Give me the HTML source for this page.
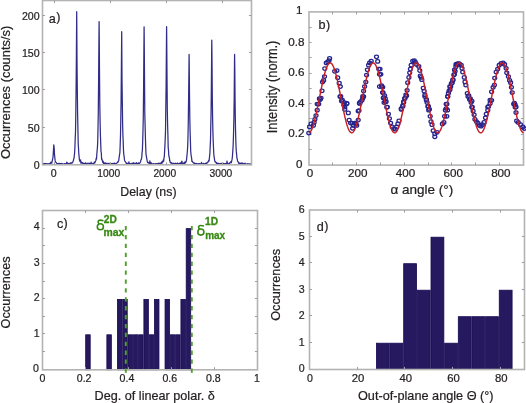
<!DOCTYPE html>
<html><head><meta charset="utf-8"><style>
html,body{margin:0;padding:0;background:#fff;overflow:hidden;}
svg{display:block;will-change:transform;}
text{font-family:"Liberation Sans", sans-serif;}
</style></head><body>
<svg width="526" height="403" viewBox="0 0 526 403">
<rect width="526" height="403" fill="#fff"/>
<path d="M43.1 164.07 L43.4 163.82 L43.7 163.63 L44 163.8 L44.3 164.38 L44.6 163.49 L44.9 163.89 L45.2 164.24 L45.5 164.09 L45.8 163.44 L46.1 164.28 L46.4 164.25 L46.7 163.97 L47 163.67 L47.3 163.63 L47.6 164.37 L47.9 164.18 L48.2 164.01 L48.5 164.38 L48.8 163.56 L49.1 163.8 L49.4 163.88 L49.7 163.3 L50 164.03 L50.3 164.06 L50.6 163.19 L50.9 162.13 L51.2 163.23 L51.5 162.87 L51.8 163.14 L52.1 161.69 L52.4 160.16 L52.7 158.58 L53 157.13 L53.3 153.15 L53.6 147.34 L53.8 144.84 L53.9 145.91 L54.2 148.4 L54.5 154.52 L54.8 157.25 L55.1 160.4 L55.4 161.64 L55.7 161.99 L56 162.56 L56.3 162.71 L56.6 163.15 L56.9 163.65 L57.2 163.77 L57.5 163.7 L57.8 164.09 L58.1 163.81 L58.4 164.19 L58.7 163.3 L59 163.36 L59.3 163.84 L59.6 163.58 L59.9 163.57 L60.2 164.36 L60.5 163.61 L60.8 164.03 L61.1 163.65 L61.4 164.38 L61.7 163.63 L62 163.46 L62.3 163.93 L62.6 164.38 L62.9 164.19 L63.2 164.19 L63.5 164.14 L63.8 164.38 L64.1 163.88 L64.4 163.58 L64.7 164.2 L65 163.92 L65.3 163.74 L65.6 163.82 L65.9 164.38 L66.2 164.38 L66.5 163.51 L66.8 162.15 L67.1 163.94 L67.4 162.86 L67.7 163.76 L68 163.56 L68.3 163.78 L68.6 163.96 L68.9 163.3 L69.2 164.03 L69.5 163.67 L69.8 164.13 L70.1 163.12 L70.4 163.37 L70.7 162.86 L71 162.9 L71.3 162.83 L71.6 163.24 L71.9 162.53 L72.2 162.9 L72.5 162.72 L72.8 161.9 L73.1 161.22 L73.4 160.57 L73.7 158.88 L74 158.45 L74.3 155.51 L74.6 153.19 L74.9 147.59 L75.2 138.85 L75.5 132.03 L75.8 114.21 L76.1 88.1 L76.4 53.91 L76.7 12.21 L76.7 11.66 L77 59.66 L77.3 89.65 L77.6 113.27 L77.9 127.78 L78.2 143.43 L78.5 148.03 L78.8 153.62 L79.1 156.43 L79.4 159.76 L79.7 160.55 L80 161.54 L80.3 161.55 L80.6 159.81 L80.9 163.09 L81.2 162.16 L81.5 162.16 L81.8 163.04 L82.1 163.1 L82.4 163 L82.7 162.62 L83 163.92 L83.3 163.65 L83.6 163.31 L83.9 163.53 L84.2 164.19 L84.5 163.49 L84.8 163.64 L85.1 163.66 L85.4 162.78 L85.7 163.42 L86 164.36 L86.3 164.33 L86.6 164.27 L86.9 163.21 L87.2 164.15 L87.5 163.98 L87.8 163.86 L88.1 163.12 L88.4 164.38 L88.7 163.55 L89 163.7 L89.3 164.2 L89.6 163.2 L89.9 163.43 L90.2 163.79 L90.5 164.38 L90.8 164.13 L91.1 162.14 L91.4 163.97 L91.7 163.67 L92 164.38 L92.3 163.94 L92.6 163.91 L92.9 163.3 L93.2 163.61 L93.5 163.25 L93.8 163.25 L94.1 162.8 L94.4 162 L94.7 163.23 L95 161.82 L95.3 161.93 L95.6 161.01 L95.9 160.44 L96.2 158.03 L96.5 159.25 L96.8 154.66 L97.1 150.81 L97.4 147.79 L97.7 142.54 L98 128.08 L98.3 112.55 L98.6 80.64 L98.9 42.65 L99.1 21.51 L99.2 31.13 L99.5 72.24 L99.8 103.98 L100.1 121.98 L100.4 134.68 L100.7 142.52 L101 151.56 L101.3 152.57 L101.6 159.28 L101.9 158.83 L102.2 160.32 L102.5 161.45 L102.8 162.66 L103.1 161.21 L103.4 162.91 L103.7 163.52 L104 163.51 L104.3 162.86 L104.6 163.44 L104.9 163.93 L105.2 163.68 L105.5 162.85 L105.8 163.57 L106.1 163.88 L106.4 163.32 L106.7 164.21 L107 163.89 L107.3 164.25 L107.6 163.6 L107.9 163.34 L108.2 163.82 L108.5 164.07 L108.8 163.84 L109.1 163.23 L109.4 164.1 L109.7 163.68 L110 164.24 L110.3 164.3 L110.6 163.99 L110.9 163.71 L111.2 164.38 L111.5 164.03 L111.8 163.51 L112.1 163.88 L112.4 163.41 L112.7 163.97 L113 164.14 L113.3 163.37 L113.6 163.51 L113.9 164.06 L114.2 164.01 L114.5 163.03 L114.8 163.41 L115.1 163.39 L115.4 164.02 L115.7 163.69 L116 163.57 L116.3 163.65 L116.6 163.23 L116.9 163 L117.2 162.62 L117.5 162.53 L117.8 161.64 L118.1 162.18 L118.4 160.93 L118.7 160.74 L119 158.41 L119.3 156.19 L119.6 154.39 L119.9 152.48 L120.2 144.5 L120.5 135.18 L120.8 119.3 L121.1 100.3 L121.4 66.73 L121.7 32.06 L121.7 31.7 L122 79.27 L122.3 100.16 L122.6 122.66 L122.9 134.9 L123.2 141.87 L123.5 150.67 L123.8 154.51 L124.1 156.04 L124.4 159.42 L124.7 160.84 L125 161.14 L125.3 161.42 L125.6 162.06 L125.9 162.44 L126.2 163.21 L126.5 163.57 L126.8 163.2 L127.1 163.31 L127.4 163.72 L127.7 163.45 L128 163.3 L128.3 163.53 L128.6 164.38 L128.9 161.94 L129.2 163.29 L129.5 163.29 L129.8 164.38 L130.1 164.28 L130.4 164.12 L130.7 163.6 L131 163.69 L131.3 163.71 L131.6 163.91 L131.9 163.32 L132.2 164.29 L132.5 163.14 L132.8 163.88 L133.1 164.29 L133.4 163.78 L133.7 162.52 L134 162.99 L134.3 164.34 L134.6 163.88 L134.9 163.88 L135.2 163.89 L135.5 163.4 L135.8 163.83 L136.1 164.06 L136.4 162.61 L136.7 163.53 L137 163.6 L137.3 163.71 L137.6 163.59 L137.9 163.84 L138.2 162.88 L138.5 163.48 L138.8 163.3 L139.1 163.08 L139.4 163.3 L139.7 162.9 L140 162.84 L140.3 162.36 L140.6 161.63 L140.9 159.77 L141.2 159.79 L141.5 158.59 L141.8 157.15 L142.1 152.28 L142.4 150.05 L142.7 141.14 L143 129.65 L143.3 116.72 L143.6 88.69 L143.9 49.02 L144.1 26.78 L144.2 35.79 L144.5 75 L144.8 113.95 L145.1 125.03 L145.4 137.03 L145.7 146.92 L146 154.41 L146.3 155.55 L146.6 157.87 L146.9 159.23 L147.2 161.08 L147.5 162.35 L147.8 162.43 L148.1 162.91 L148.4 162.82 L148.7 162.53 L149 163.08 L149.3 162.84 L149.6 163.46 L149.9 160.9 L150.2 163.78 L150.5 164.04 L150.8 162.94 L151.1 163.81 L151.4 162.82 L151.7 163.21 L152 163.79 L152.3 164.13 L152.6 164.07 L152.9 164.03 L153.2 164.38 L153.5 163.56 L153.8 164.18 L154.1 163.8 L154.4 164.19 L154.7 164.13 L155 164.32 L155.3 163.85 L155.6 164.02 L155.9 163.51 L156.2 164.07 L156.5 163.99 L156.8 163.83 L157.1 163.62 L157.4 164.2 L157.7 163.73 L158 163.29 L158.3 163.76 L158.6 163.23 L158.9 164.38 L159.2 163.76 L159.5 163.23 L159.8 163.28 L160.1 164.11 L160.4 163.89 L160.7 163.73 L161 162.56 L161.3 162.93 L161.6 162.01 L161.9 163.25 L162.2 162.88 L162.5 161.71 L162.8 160.8 L163.1 161.84 L163.4 159.73 L163.7 161.09 L164 157.81 L164.3 156.54 L164.6 151.26 L164.9 146.24 L165.2 139.25 L165.5 131.41 L165.8 108.04 L166.1 86.31 L166.4 49.2 L166.6 26.68 L166.7 36.07 L167 74.66 L167.3 109.62 L167.6 124.43 L167.9 134.81 L168.2 147.71 L168.5 150.14 L168.8 155.76 L169.1 156.74 L169.4 157.93 L169.7 160.86 L170 160.8 L170.3 162.67 L170.6 162.83 L170.9 162.63 L171.2 162.58 L171.5 162.96 L171.8 163.59 L172.1 163.07 L172.4 163.38 L172.7 163.84 L173 164.26 L173.3 163.28 L173.6 163.31 L173.9 163.35 L174.2 163.7 L174.5 163.74 L174.8 164.29 L175.1 163.27 L175.4 163.44 L175.7 163.23 L176 164.33 L176.3 163.53 L176.6 164.16 L176.9 164.04 L177.2 163.67 L177.5 163.04 L177.8 163.78 L178.1 163.49 L178.4 163.53 L178.7 164.24 L179 163.92 L179.3 164.05 L179.6 163.25 L179.9 164.06 L180.2 163.17 L180.5 163.54 L180.8 163.62 L181.1 162.48 L181.4 163.49 L181.7 161.68 L182 161.2 L182.3 164.38 L182.6 164.01 L182.9 163.72 L183.2 163.49 L183.5 163.63 L183.8 163.08 L184.1 162.41 L184.4 163.61 L184.7 163.44 L185 161.91 L185.3 162.95 L185.6 162.73 L185.9 161.95 L186.2 161.1 L186.5 159.97 L186.8 157.15 L187.1 154.23 L187.4 150.73 L187.7 145.98 L188 136.72 L188.3 121.46 L188.6 98.17 L188.9 72.64 L189.1 54.44 L189.2 60.95 L189.5 94.33 L189.8 116.96 L190.1 131.4 L190.4 140.86 L190.7 151.28 L191 154.29 L191.3 156.53 L191.6 157.82 L191.9 161.34 L192.2 161.1 L192.5 161.59 L192.8 162.4 L193.1 162.47 L193.4 162.69 L193.7 163.19 L194 163.22 L194.3 162.92 L194.6 164.38 L194.9 163.96 L195.2 164.07 L195.5 163.41 L195.8 163.61 L196.1 163.88 L196.4 163.41 L196.7 163.63 L197 163.96 L197.3 163.73 L197.6 164.18 L197.9 164.3 L198.2 163.83 L198.5 164.17 L198.8 163.62 L199.1 163.76 L199.4 163.69 L199.7 163.65 L200 164.14 L200.3 164.38 L200.6 163.98 L200.9 163.74 L201.2 163.68 L201.5 162.41 L201.8 163.2 L202.1 163.98 L202.4 163.92 L202.7 163.9 L203 163.88 L203.3 164.32 L203.6 163.42 L203.9 163.96 L204.2 164 L204.5 164.38 L204.8 163.61 L205.1 163.83 L205.4 163.97 L205.7 163.11 L206 163.46 L206.3 163.65 L206.6 162.94 L206.9 163.04 L207.2 162.83 L207.5 162.89 L207.8 162.74 L208.1 161.38 L208.4 161.26 L208.7 160.03 L209 161.06 L209.3 158.72 L209.6 156.12 L209.9 152.82 L210.2 146.62 L210.5 140.35 L210.8 125.43 L211.1 110.87 L211.4 84.03 L211.7 47.82 L211.8 40.15 L212 59.78 L212.3 96.44 L212.6 117.87 L212.9 131.51 L213.2 140.95 L213.5 147.83 L213.8 154.21 L214.1 156.59 L214.4 158.58 L214.7 160.58 L215 161.75 L215.3 161.69 L215.6 162.16 L215.9 162.57 L216.2 162.35 L216.5 163 L216.8 163.71 L217.1 162.96 L217.4 163.3 L217.7 163.26 L218 163.72 L218.3 163.43 L218.6 163.3 L218.9 164.07 L219.2 163.84 L219.5 163.71 L219.8 164.2 L220.1 163.51 L220.4 164.08 L220.7 163.88 L221 164.11 L221.3 163.29 L221.6 164.19 L221.9 164.07 L222.2 163.68 L222.5 164 L222.8 164.15 L223.1 163.95 L223.4 163.39 L223.7 164.31 L224 163.53 L224.3 164.17 L224.6 164.16 L224.9 163.84 L225.2 163.5 L225.5 163.57 L225.8 163.57 L226.1 163.77 L226.4 163.95 L226.7 163.4 L227 161.05 L227.3 163.28 L227.6 163.84 L227.9 163.47 L228.2 164.38 L228.5 163.51 L228.8 163.86 L229.1 163.63 L229.4 164.09 L229.7 162.77 L230 162.63 L230.3 162.65 L230.6 162.11 L230.9 161.64 L231.2 162.75 L231.5 161.97 L231.8 160.38 L232.1 159.16 L232.4 156.75 L232.7 152.27 L233 148.1 L233.3 141.44 L233.6 131.03 L233.9 117.86 L234.2 97.14 L234.5 61.58 L234.6 54.47 L234.8 69.27 L235.1 103.11 L235.4 123.84 L235.7 136.73 L236 145.95 L236.3 151.63 L236.6 154.08 L236.9 158.25 L237.2 158.68 L237.5 160.64 L237.8 161.45 L238.1 161.53 L238.4 162.4 L238.7 163.45 L239 162.81 L239.3 163.06 L239.6 163.3 L239.9 163.72 L240.2 163.32 L240.5 163.9 L240.8 163.62 L241.1 162.83 L241.4 164.16 L241.7 163.57 L242 163.22 L242.3 163.12 L242.6 163.3 L242.9 164.08 L243.2 163.44 L243.5 163.65 L243.8 163.92 L244.1 163.84 L244.4 163.62 L244.7 163.59 L245 163.08 L245.3 164.29 L245.6 164.12 L245.9 164.38 L246.2 163.98 L246.5 164.2 L246.8 164.2 L247.1 163.89 L247.4 164.03 L247.7 163.86 L248 163.75 L248.3 164.32 L248.6 164.27 L248.9 164.38 L249.2 163.9 L249.5 164.17 L249.8 164.1 L250.1 163.93 L250.4 163.85 L250.7 164.13" fill="none" stroke="#302c88" stroke-width="1.25" stroke-linejoin="round"/>
<rect x="42.5" y="0.5" width="209" height="164.3" fill="none" stroke="#b3b3b3" stroke-width="1.6"/>
<path d="M54.5 164.8v-2.6M54.5 0.5v2.6M110.5 164.8v-2.6M110.5 0.5v2.6M166.5 164.8v-2.6M166.5 0.5v2.6M222.5 164.8v-2.6M222.5 0.5v2.6" stroke="#a0a0a0" stroke-width="1" fill="none"/>
<path d="M42.5 164.5h2.6M251.5 164.5h-2.6M42.5 127.5h2.6M251.5 127.5h-2.6M42.5 89.5h2.6M251.5 89.5h-2.6M42.5 52.5h2.6M251.5 52.5h-2.6M42.5 15.5h2.6M251.5 15.5h-2.6" stroke="#a0a0a0" stroke-width="1" fill="none"/>
<text x="53.75" y="177" font-size="10.6" text-anchor="middle" fill="#231f20" stroke="#231f20" stroke-width="0.22" font-weight="normal">0</text>
<text x="108.7" y="177.2" font-size="10.6" text-anchor="middle" fill="#231f20" stroke="#231f20" stroke-width="0.22" font-weight="normal" textLength="22.8" lengthAdjust="spacingAndGlyphs">1000</text>
<text x="164.8" y="177.2" font-size="10.6" text-anchor="middle" fill="#231f20" stroke="#231f20" stroke-width="0.22" font-weight="normal" textLength="22.8" lengthAdjust="spacingAndGlyphs">2000</text>
<text x="220.9" y="177.2" font-size="10.6" text-anchor="middle" fill="#231f20" stroke="#231f20" stroke-width="0.22" font-weight="normal" textLength="22.8" lengthAdjust="spacingAndGlyphs">3000</text>
<text x="39.6" y="169.1" font-size="10.6" text-anchor="end" fill="#231f20" stroke="#231f20" stroke-width="0.22" font-weight="normal">0</text>
<text x="39.6" y="131.72" font-size="10.6" text-anchor="end" fill="#231f20" stroke="#231f20" stroke-width="0.22" font-weight="normal">50</text>
<text x="39.6" y="94.35" font-size="10.6" text-anchor="end" fill="#231f20" stroke="#231f20" stroke-width="0.22" font-weight="normal">100</text>
<text x="39.6" y="56.97" font-size="10.6" text-anchor="end" fill="#231f20" stroke="#231f20" stroke-width="0.22" font-weight="normal">150</text>
<text x="39.6" y="19.6" font-size="10.6" text-anchor="end" fill="#231f20" stroke="#231f20" stroke-width="0.22" font-weight="normal">200</text>
<text x="48.7" y="22.7" font-size="12.6" fill="#231f20" stroke="#231f20" stroke-width="0.22">a<tspan dx="0.5" dy="-1.3">)</tspan></text>
<text x="120.3" y="195.7" font-size="12.6" text-anchor="start" fill="#231f20" stroke="#231f20" stroke-width="0.22" font-weight="normal" textLength="56.2" lengthAdjust="spacingAndGlyphs">Delay (ns)</text>
<text transform="translate(10.4 159.1) rotate(-90)" font-size="12.6" fill="#231f20" stroke="#231f20" stroke-width="0.22" textLength="133.4" lengthAdjust="spacingAndGlyphs">Occurrences (counts/s)</text>
<rect x="309" y="11.9" width="214.5" height="153.2" fill="none" stroke="#b3b3b3" stroke-width="1.6"/>
<path d="M332.5 165.1v-2.6M332.5 11.9v2.6M356.5 165.1v-2.6M356.5 11.9v2.6M380.5 165.1v-2.6M380.5 11.9v2.6M404.5 165.1v-2.6M404.5 11.9v2.6M428.5 165.1v-2.6M428.5 11.9v2.6M451.5 165.1v-2.6M451.5 11.9v2.6M475.5 165.1v-2.6M475.5 11.9v2.6M499.5 165.1v-2.6M499.5 11.9v2.6" stroke="#a0a0a0" stroke-width="1" fill="none"/>
<path d="M309 149.5h2.6M523.5 149.5h-2.6M309 134.5h2.6M523.5 134.5h-2.6M309 118.5h2.6M523.5 118.5h-2.6M309 103.5h2.6M523.5 103.5h-2.6M309 88.5h2.6M523.5 88.5h-2.6M309 73.5h2.6M523.5 73.5h-2.6M309 57.5h2.6M523.5 57.5h-2.6M309 42.5h2.6M523.5 42.5h-2.6M309 27.5h2.6M523.5 27.5h-2.6" stroke="#a0a0a0" stroke-width="1" fill="none"/>
<g fill="none" stroke="#24248e" stroke-width="1.25"><ellipse cx="317.2" cy="104" rx="2.0" ry="1.75"/><ellipse cx="319.4" cy="98.7" rx="2.0" ry="1.75"/><ellipse cx="322" cy="90.8" rx="2.0" ry="1.75"/><ellipse cx="322.5" cy="82" rx="2.0" ry="1.75"/><ellipse cx="323.6" cy="80.4" rx="2.0" ry="1.75"/><ellipse cx="324.5" cy="76.6" rx="2.0" ry="1.75"/><ellipse cx="324.8" cy="68.6" rx="2.0" ry="1.75"/><ellipse cx="326.3" cy="62.9" rx="2.0" ry="1.75"/><ellipse cx="327.8" cy="61.9" rx="2.0" ry="1.75"/><ellipse cx="329.6" cy="58.4" rx="2.0" ry="1.75"/><ellipse cx="329" cy="60.6" rx="2.0" ry="1.75"/><ellipse cx="334.7" cy="71.3" rx="2.0" ry="1.75"/><ellipse cx="336.9" cy="70.5" rx="2.0" ry="1.75"/><ellipse cx="337.7" cy="77.7" rx="2.0" ry="1.75"/><ellipse cx="339.2" cy="83.2" rx="2.0" ry="1.75"/><ellipse cx="340.3" cy="86.5" rx="2.0" ry="1.75"/><ellipse cx="340.7" cy="96.4" rx="2.0" ry="1.75"/><ellipse cx="342.3" cy="100.2" rx="2.0" ry="1.75"/><ellipse cx="344.5" cy="102.5" rx="2.0" ry="1.75"/><ellipse cx="346.8" cy="103.5" rx="2.0" ry="1.75"/><ellipse cx="344.8" cy="107" rx="2.0" ry="1.75"/><ellipse cx="359" cy="110.5" rx="2.0" ry="1.75"/><ellipse cx="359.4" cy="103.2" rx="2.0" ry="1.75"/><ellipse cx="362" cy="100.2" rx="2.0" ry="1.75"/><ellipse cx="362.8" cy="96.4" rx="2.0" ry="1.75"/><ellipse cx="363.6" cy="91" rx="2.0" ry="1.75"/><ellipse cx="364.6" cy="86.5" rx="2.0" ry="1.75"/><ellipse cx="365.8" cy="82" rx="2.0" ry="1.75"/><ellipse cx="366.6" cy="75.1" rx="2.0" ry="1.75"/><ellipse cx="367.4" cy="69.8" rx="2.0" ry="1.75"/><ellipse cx="368.6" cy="65.2" rx="2.0" ry="1.75"/><ellipse cx="369.6" cy="62.9" rx="2.0" ry="1.75"/><ellipse cx="371.2" cy="61" rx="2.0" ry="1.75"/><ellipse cx="376.5" cy="56.8" rx="2.0" ry="1.75"/><ellipse cx="377.7" cy="61.4" rx="2.0" ry="1.75"/><ellipse cx="378.8" cy="69" rx="2.0" ry="1.75"/><ellipse cx="379.5" cy="74.3" rx="2.0" ry="1.75"/><ellipse cx="379.5" cy="86.5" rx="2.0" ry="1.75"/><ellipse cx="381.8" cy="86.5" rx="2.0" ry="1.75"/><ellipse cx="382.6" cy="92.6" rx="2.0" ry="1.75"/><ellipse cx="308.8" cy="133" rx="2.0" ry="1.75"/><ellipse cx="309.6" cy="126.9" rx="2.0" ry="1.75"/><ellipse cx="311.1" cy="123.9" rx="2.0" ry="1.75"/><ellipse cx="313.4" cy="125.4" rx="2.0" ry="1.75"/><ellipse cx="314.1" cy="122.4" rx="2.0" ry="1.75"/><ellipse cx="314.9" cy="119.3" rx="2.0" ry="1.75"/><ellipse cx="316" cy="115.5" rx="2.0" ry="1.75"/><ellipse cx="317.2" cy="110.2" rx="2.0" ry="1.75"/><ellipse cx="318.7" cy="104.1" rx="2.0" ry="1.75"/><ellipse cx="320.2" cy="99.6" rx="2.0" ry="1.75"/><ellipse cx="321" cy="98" rx="2.0" ry="1.75"/><ellipse cx="340" cy="96.5" rx="2.0" ry="1.75"/><ellipse cx="341.5" cy="101.1" rx="2.0" ry="1.75"/><ellipse cx="343.8" cy="104.9" rx="2.0" ry="1.75"/><ellipse cx="346.8" cy="103.4" rx="2.0" ry="1.75"/><ellipse cx="344.8" cy="109.4" rx="2.0" ry="1.75"/><ellipse cx="348.3" cy="112.9" rx="2.0" ry="1.75"/><ellipse cx="349.1" cy="120.1" rx="2.0" ry="1.75"/><ellipse cx="350.6" cy="123.1" rx="2.0" ry="1.75"/><ellipse cx="352.1" cy="123.1" rx="2.0" ry="1.75"/><ellipse cx="352.6" cy="128.3" rx="2.0" ry="1.75"/><ellipse cx="353.4" cy="125.4" rx="2.0" ry="1.75"/><ellipse cx="354.4" cy="123.1" rx="2.0" ry="1.75"/><ellipse cx="355.9" cy="123.9" rx="2.0" ry="1.75"/><ellipse cx="356.7" cy="125.4" rx="2.0" ry="1.75"/><ellipse cx="358.2" cy="120.1" rx="2.0" ry="1.75"/><ellipse cx="358.2" cy="111" rx="2.0" ry="1.75"/><ellipse cx="359.8" cy="103.4" rx="2.0" ry="1.75"/><ellipse cx="360.5" cy="101.8" rx="2.0" ry="1.75"/><ellipse cx="362.8" cy="98" rx="2.0" ry="1.75"/><ellipse cx="363.6" cy="96.5" rx="2.0" ry="1.75"/><ellipse cx="383.3" cy="98" rx="2.0" ry="1.75"/><ellipse cx="384.1" cy="102.6" rx="2.0" ry="1.75"/><ellipse cx="380" cy="69" rx="2.0" ry="1.75"/><ellipse cx="380.8" cy="74.3" rx="2.0" ry="1.75"/><ellipse cx="381.5" cy="85.7" rx="2.0" ry="1.75"/><ellipse cx="382.7" cy="87.3" rx="2.0" ry="1.75"/><ellipse cx="383" cy="92.6" rx="2.0" ry="1.75"/><ellipse cx="384.6" cy="95.6" rx="2.0" ry="1.75"/><ellipse cx="385.3" cy="98.7" rx="2.0" ry="1.75"/><ellipse cx="386.1" cy="101.7" rx="2.0" ry="1.75"/><ellipse cx="387.3" cy="107" rx="2.0" ry="1.75"/><ellipse cx="401.3" cy="108.6" rx="2.0" ry="1.75"/><ellipse cx="402.8" cy="105.5" rx="2.0" ry="1.75"/><ellipse cx="403.6" cy="102.5" rx="2.0" ry="1.75"/><ellipse cx="404.6" cy="98.7" rx="2.0" ry="1.75"/><ellipse cx="405.9" cy="94.9" rx="2.0" ry="1.75"/><ellipse cx="407.1" cy="90.3" rx="2.0" ry="1.75"/><ellipse cx="407.7" cy="82.7" rx="2.0" ry="1.75"/><ellipse cx="408.9" cy="77.4" rx="2.0" ry="1.75"/><ellipse cx="409.7" cy="72.8" rx="2.0" ry="1.75"/><ellipse cx="410.4" cy="69" rx="2.0" ry="1.75"/><ellipse cx="411.2" cy="65.2" rx="2.0" ry="1.75"/><ellipse cx="412.7" cy="61" rx="2.0" ry="1.75"/><ellipse cx="414.2" cy="60.6" rx="2.0" ry="1.75"/><ellipse cx="415.3" cy="62.2" rx="2.0" ry="1.75"/><ellipse cx="416.5" cy="64.4" rx="2.0" ry="1.75"/><ellipse cx="418.8" cy="66.4" rx="2.0" ry="1.75"/><ellipse cx="419.8" cy="70.5" rx="2.0" ry="1.75"/><ellipse cx="420.3" cy="75.9" rx="2.0" ry="1.75"/><ellipse cx="421.1" cy="77.4" rx="2.0" ry="1.75"/><ellipse cx="421.8" cy="79.7" rx="2.0" ry="1.75"/><ellipse cx="423.3" cy="88" rx="2.0" ry="1.75"/><ellipse cx="424.1" cy="91.1" rx="2.0" ry="1.75"/><ellipse cx="424.9" cy="94.9" rx="2.0" ry="1.75"/><ellipse cx="426.4" cy="99.4" rx="2.0" ry="1.75"/><ellipse cx="427.1" cy="102.5" rx="2.0" ry="1.75"/><ellipse cx="428.4" cy="106.3" rx="2.0" ry="1.75"/><ellipse cx="429.4" cy="109.3" rx="2.0" ry="1.75"/><ellipse cx="446.2" cy="108.6" rx="2.0" ry="1.75"/><ellipse cx="446.9" cy="104" rx="2.0" ry="1.75"/><ellipse cx="447.7" cy="96.4" rx="2.0" ry="1.75"/><ellipse cx="448.4" cy="93.3" rx="2.0" ry="1.75"/><ellipse cx="450" cy="89.5" rx="2.0" ry="1.75"/><ellipse cx="450.7" cy="86.5" rx="2.0" ry="1.75"/><ellipse cx="452.2" cy="82.7" rx="2.0" ry="1.75"/><ellipse cx="453" cy="79.7" rx="2.0" ry="1.75"/><ellipse cx="453.8" cy="75.1" rx="2.0" ry="1.75"/><ellipse cx="454.5" cy="69.8" rx="2.0" ry="1.75"/><ellipse cx="456" cy="64.4" rx="2.0" ry="1.75"/><ellipse cx="457.6" cy="63.7" rx="2.0" ry="1.75"/><ellipse cx="459.1" cy="63.7" rx="2.0" ry="1.75"/><ellipse cx="383.8" cy="97.3" rx="2.0" ry="1.75"/><ellipse cx="385.3" cy="101.8" rx="2.0" ry="1.75"/><ellipse cx="386.8" cy="107.2" rx="2.0" ry="1.75"/><ellipse cx="388.4" cy="114" rx="2.0" ry="1.75"/><ellipse cx="389.4" cy="118.6" rx="2.0" ry="1.75"/><ellipse cx="390.6" cy="123.1" rx="2.0" ry="1.75"/><ellipse cx="392.2" cy="126.9" rx="2.0" ry="1.75"/><ellipse cx="393.7" cy="128.5" rx="2.0" ry="1.75"/><ellipse cx="395.2" cy="129.2" rx="2.0" ry="1.75"/><ellipse cx="396.7" cy="126.9" rx="2.0" ry="1.75"/><ellipse cx="397.9" cy="123.9" rx="2.0" ry="1.75"/><ellipse cx="399" cy="120.9" rx="2.0" ry="1.75"/><ellipse cx="401.3" cy="109.4" rx="2.0" ry="1.75"/><ellipse cx="402.8" cy="106.4" rx="2.0" ry="1.75"/><ellipse cx="403.6" cy="101.8" rx="2.0" ry="1.75"/><ellipse cx="405.1" cy="98" rx="2.0" ry="1.75"/><ellipse cx="406.6" cy="95.8" rx="2.0" ry="1.75"/><ellipse cx="424.9" cy="96.5" rx="2.0" ry="1.75"/><ellipse cx="426.4" cy="100.3" rx="2.0" ry="1.75"/><ellipse cx="427.9" cy="106.4" rx="2.0" ry="1.75"/><ellipse cx="428.7" cy="110.2" rx="2.0" ry="1.75"/><ellipse cx="430.2" cy="116.3" rx="2.0" ry="1.75"/><ellipse cx="431" cy="121.6" rx="2.0" ry="1.75"/><ellipse cx="432" cy="124.7" rx="2.0" ry="1.75"/><ellipse cx="433.2" cy="130.7" rx="2.0" ry="1.75"/><ellipse cx="434.8" cy="133.8" rx="2.0" ry="1.75"/><ellipse cx="434.8" cy="136.8" rx="2.0" ry="1.75"/><ellipse cx="437" cy="132.3" rx="2.0" ry="1.75"/><ellipse cx="442.4" cy="123.9" rx="2.0" ry="1.75"/><ellipse cx="443.9" cy="122.4" rx="2.0" ry="1.75"/><ellipse cx="444.6" cy="116.3" rx="2.0" ry="1.75"/><ellipse cx="445.4" cy="110.2" rx="2.0" ry="1.75"/><ellipse cx="446.2" cy="104.1" rx="2.0" ry="1.75"/><ellipse cx="447.7" cy="96.5" rx="2.0" ry="1.75"/><ellipse cx="449" cy="91.1" rx="2.0" ry="1.75"/><ellipse cx="449.8" cy="86.5" rx="2.0" ry="1.75"/><ellipse cx="451.3" cy="83.5" rx="2.0" ry="1.75"/><ellipse cx="452.8" cy="80.4" rx="2.0" ry="1.75"/><ellipse cx="454.4" cy="74.3" rx="2.0" ry="1.75"/><ellipse cx="455.1" cy="71.3" rx="2.0" ry="1.75"/><ellipse cx="455.9" cy="66.7" rx="2.0" ry="1.75"/><ellipse cx="456.6" cy="64.4" rx="2.0" ry="1.75"/><ellipse cx="458.2" cy="64" rx="2.0" ry="1.75"/><ellipse cx="459.7" cy="64.4" rx="2.0" ry="1.75"/><ellipse cx="461.2" cy="65.2" rx="2.0" ry="1.75"/><ellipse cx="462" cy="68.3" rx="2.0" ry="1.75"/><ellipse cx="462.7" cy="72.1" rx="2.0" ry="1.75"/><ellipse cx="464.3" cy="77.4" rx="2.0" ry="1.75"/><ellipse cx="465" cy="81.9" rx="2.0" ry="1.75"/><ellipse cx="465.8" cy="85" rx="2.0" ry="1.75"/><ellipse cx="467.3" cy="93.3" rx="2.0" ry="1.75"/><ellipse cx="468.8" cy="95.6" rx="2.0" ry="1.75"/><ellipse cx="470.3" cy="98.7" rx="2.0" ry="1.75"/><ellipse cx="471.9" cy="101" rx="2.0" ry="1.75"/><ellipse cx="472.2" cy="107" rx="2.0" ry="1.75"/><ellipse cx="487.8" cy="107" rx="2.0" ry="1.75"/><ellipse cx="490.1" cy="100.2" rx="2.0" ry="1.75"/><ellipse cx="491.6" cy="91.8" rx="2.0" ry="1.75"/><ellipse cx="493.1" cy="87.3" rx="2.0" ry="1.75"/><ellipse cx="494.4" cy="85" rx="2.0" ry="1.75"/><ellipse cx="494.7" cy="78.1" rx="2.0" ry="1.75"/><ellipse cx="496.2" cy="72.1" rx="2.0" ry="1.75"/><ellipse cx="497.7" cy="69" rx="2.0" ry="1.75"/><ellipse cx="499.2" cy="65.2" rx="2.0" ry="1.75"/><ellipse cx="501.1" cy="63.4" rx="2.0" ry="1.75"/><ellipse cx="503" cy="62.9" rx="2.0" ry="1.75"/><ellipse cx="504.6" cy="64.4" rx="2.0" ry="1.75"/><ellipse cx="506.1" cy="68.3" rx="2.0" ry="1.75"/><ellipse cx="506.8" cy="72.8" rx="2.0" ry="1.75"/><ellipse cx="508.4" cy="76.6" rx="2.0" ry="1.75"/><ellipse cx="509.6" cy="80.4" rx="2.0" ry="1.75"/><ellipse cx="510.6" cy="82.7" rx="2.0" ry="1.75"/><ellipse cx="511.4" cy="87.3" rx="2.0" ry="1.75"/><ellipse cx="512.2" cy="92.6" rx="2.0" ry="1.75"/><ellipse cx="514.4" cy="103.2" rx="2.0" ry="1.75"/><ellipse cx="515.2" cy="104.8" rx="2.0" ry="1.75"/><ellipse cx="516" cy="107" rx="2.0" ry="1.75"/><ellipse cx="447.5" cy="110.2" rx="2.0" ry="1.75"/><ellipse cx="446.8" cy="116.3" rx="2.0" ry="1.75"/><ellipse cx="468" cy="96.5" rx="2.0" ry="1.75"/><ellipse cx="469.6" cy="99.6" rx="2.0" ry="1.75"/><ellipse cx="471.1" cy="102.6" rx="2.0" ry="1.75"/><ellipse cx="471.9" cy="107.2" rx="2.0" ry="1.75"/><ellipse cx="473.1" cy="111" rx="2.0" ry="1.75"/><ellipse cx="474.1" cy="114.8" rx="2.0" ry="1.75"/><ellipse cx="474.9" cy="119.3" rx="2.0" ry="1.75"/><ellipse cx="476.4" cy="121.6" rx="2.0" ry="1.75"/><ellipse cx="477.9" cy="123.1" rx="2.0" ry="1.75"/><ellipse cx="479.5" cy="125.4" rx="2.0" ry="1.75"/><ellipse cx="481" cy="126.2" rx="2.0" ry="1.75"/><ellipse cx="482.5" cy="124.7" rx="2.0" ry="1.75"/><ellipse cx="484" cy="122.4" rx="2.0" ry="1.75"/><ellipse cx="485.5" cy="117.8" rx="2.0" ry="1.75"/><ellipse cx="486.3" cy="114" rx="2.0" ry="1.75"/><ellipse cx="487.8" cy="110.2" rx="2.0" ry="1.75"/><ellipse cx="488.6" cy="106.4" rx="2.0" ry="1.75"/><ellipse cx="490.1" cy="103.4" rx="2.0" ry="1.75"/><ellipse cx="491.6" cy="100.3" rx="2.0" ry="1.75"/><ellipse cx="513.7" cy="104.1" rx="2.0" ry="1.75"/><ellipse cx="515.2" cy="107.2" rx="2.0" ry="1.75"/><ellipse cx="516" cy="112.5" rx="2.0" ry="1.75"/><ellipse cx="516.7" cy="120.9" rx="2.0" ry="1.75"/><ellipse cx="518.2" cy="122.4" rx="2.0" ry="1.75"/><ellipse cx="520.5" cy="124.7" rx="2.0" ry="1.75"/><ellipse cx="522.8" cy="126.9" rx="2.0" ry="1.75"/><ellipse cx="524.3" cy="128.5" rx="2.0" ry="1.75"/></g>
<path d="M309 132.82 L309.5 132.61 L310 132.22 L310.5 131.65 L311 130.89 L311.5 129.96 L312 128.86 L312.5 127.59 L313 126.17 L313.5 124.59 L314 122.87 L314.5 121.02 L315 119.04 L315.5 116.95 L316 114.76 L316.5 112.47 L317 110.11 L317.5 107.69 L318 105.21 L318.5 102.69 L319 100.15 L319.5 97.59 L320 95.04 L320.5 92.5 L321 89.99 L321.5 87.52 L322 85.11 L322.5 82.76 L323 80.5 L323.5 78.33 L324 76.26 L324.5 74.3 L325 72.48 L325.5 70.78 L326 69.24 L326.5 67.84 L327 66.61 L327.5 65.54 L328 64.64 L328.5 63.92 L329 63.39 L329.5 63.03 L330 62.86 L330.5 62.88 L331 63.09 L331.5 63.48 L332 64.05 L332.5 64.81 L333 65.74 L333.5 66.84 L334 68.11 L334.5 69.53 L335 71.11 L335.5 72.83 L336 74.68 L336.5 76.66 L337 78.75 L337.5 80.94 L338 83.23 L338.5 85.59 L339 88.01 L339.5 90.49 L340 93.01 L340.5 95.55 L341 98.11 L341.5 100.66 L342 103.2 L342.5 105.71 L343 108.18 L343.5 110.59 L344 112.94 L344.5 115.2 L345 117.37 L345.5 119.44 L346 121.4 L346.5 123.22 L347 124.92 L347.5 126.46 L348 127.86 L348.5 129.09 L349 130.16 L349.5 131.06 L350 131.78 L350.5 132.31 L351 132.67 L351.5 132.84 L352 132.82 L352.5 132.61 L353 132.22 L353.5 131.65 L354 130.89 L354.5 129.96 L355 128.86 L355.5 127.59 L356 126.17 L356.5 124.59 L357 122.87 L357.5 121.02 L358 119.04 L358.5 116.95 L359 114.76 L359.5 112.47 L360 110.11 L360.5 107.69 L361 105.21 L361.5 102.69 L362 100.15 L362.5 97.59 L363 95.04 L363.5 92.5 L364 89.99 L364.5 87.52 L365 85.11 L365.5 82.76 L366 80.5 L366.5 78.33 L367 76.26 L367.5 74.3 L368 72.48 L368.5 70.78 L369 69.24 L369.5 67.84 L370 66.61 L370.5 65.54 L371 64.64 L371.5 63.92 L372 63.39 L372.5 63.03 L373 62.86 L373.5 62.88 L374 63.09 L374.5 63.48 L375 64.05 L375.5 64.81 L376 65.74 L376.5 66.84 L377 68.11 L377.5 69.53 L378 71.11 L378.5 72.83 L379 74.68 L379.5 76.66 L380 78.75 L380.5 80.94 L381 83.23 L381.5 85.59 L382 88.01 L382.5 90.49 L383 93.01 L383.5 95.55 L384 98.11 L384.5 100.66 L385 103.2 L385.5 105.71 L386 108.18 L386.5 110.59 L387 112.94 L387.5 115.2 L388 117.37 L388.5 119.44 L389 121.4 L389.5 123.22 L390 124.92 L390.5 126.46 L391 127.86 L391.5 129.09 L392 130.16 L392.5 131.06 L393 131.78 L393.5 132.31 L394 132.67 L394.5 132.84 L395 132.82 L395.5 132.61 L396 132.22 L396.5 131.65 L397 130.89 L397.5 129.96 L398 128.86 L398.5 127.59 L399 126.17 L399.5 124.59 L400 122.87 L400.5 121.02 L401 119.04 L401.5 116.95 L402 114.76 L402.5 112.47 L403 110.11 L403.5 107.69 L404 105.21 L404.5 102.69 L405 100.15 L405.5 97.59 L406 95.04 L406.5 92.5 L407 89.99 L407.5 87.52 L408 85.11 L408.5 82.76 L409 80.5 L409.5 78.33 L410 76.26 L410.5 74.3 L411 72.48 L411.5 70.78 L412 69.24 L412.5 67.84 L413 66.61 L413.5 65.54 L414 64.64 L414.5 63.92 L415 63.39 L415.5 63.03 L416 62.86 L416.5 62.88 L417 63.09 L417.5 63.48 L418 64.05 L418.5 64.81 L419 65.74 L419.5 66.84 L420 68.11 L420.5 69.53 L421 71.11 L421.5 72.83 L422 74.68 L422.5 76.66 L423 78.75 L423.5 80.94 L424 83.23 L424.5 85.59 L425 88.01 L425.5 90.49 L426 93.01 L426.5 95.55 L427 98.11 L427.5 100.66 L428 103.2 L428.5 105.71 L429 108.18 L429.5 110.59 L430 112.94 L430.5 115.2 L431 117.37 L431.5 119.44 L432 121.4 L432.5 123.22 L433 124.92 L433.5 126.46 L434 127.86 L434.5 129.09 L435 130.16 L435.5 131.06 L436 131.78 L436.5 132.31 L437 132.67 L437.5 132.84 L438 132.82 L438.5 132.61 L439 132.22 L439.5 131.65 L440 130.89 L440.5 129.96 L441 128.86 L441.5 127.59 L442 126.17 L442.5 124.59 L443 122.87 L443.5 121.02 L444 119.04 L444.5 116.95 L445 114.76 L445.5 112.47 L446 110.11 L446.5 107.69 L447 105.21 L447.5 102.69 L448 100.15 L448.5 97.59 L449 95.04 L449.5 92.5 L450 89.99 L450.5 87.52 L451 85.11 L451.5 82.76 L452 80.5 L452.5 78.33 L453 76.26 L453.5 74.3 L454 72.48 L454.5 70.78 L455 69.24 L455.5 67.84 L456 66.61 L456.5 65.54 L457 64.64 L457.5 63.92 L458 63.39 L458.5 63.03 L459 62.86 L459.5 62.88 L460 63.09 L460.5 63.48 L461 64.05 L461.5 64.81 L462 65.74 L462.5 66.84 L463 68.11 L463.5 69.53 L464 71.11 L464.5 72.83 L465 74.68 L465.5 76.66 L466 78.75 L466.5 80.94 L467 83.23 L467.5 85.59 L468 88.01 L468.5 90.49 L469 93.01 L469.5 95.55 L470 98.11 L470.5 100.66 L471 103.2 L471.5 105.71 L472 108.18 L472.5 110.59 L473 112.94 L473.5 115.2 L474 117.37 L474.5 119.44 L475 121.4 L475.5 123.22 L476 124.92 L476.5 126.46 L477 127.86 L477.5 129.09 L478 130.16 L478.5 131.06 L479 131.78 L479.5 132.31 L480 132.67 L480.5 132.84 L481 132.82 L481.5 132.61 L482 132.22 L482.5 131.65 L483 130.89 L483.5 129.96 L484 128.86 L484.5 127.59 L485 126.17 L485.5 124.59 L486 122.87 L486.5 121.02 L487 119.04 L487.5 116.95 L488 114.76 L488.5 112.47 L489 110.11 L489.5 107.69 L490 105.21 L490.5 102.69 L491 100.15 L491.5 97.59 L492 95.04 L492.5 92.5 L493 89.99 L493.5 87.52 L494 85.11 L494.5 82.76 L495 80.5 L495.5 78.33 L496 76.26 L496.5 74.3 L497 72.48 L497.5 70.78 L498 69.24 L498.5 67.84 L499 66.61 L499.5 65.54 L500 64.64 L500.5 63.92 L501 63.39 L501.5 63.03 L502 62.86 L502.5 62.88 L503 63.09 L503.5 63.48 L504 64.05 L504.5 64.81 L505 65.74 L505.5 66.84 L506 68.11 L506.5 69.53 L507 71.11 L507.5 72.83 L508 74.68 L508.5 76.66 L509 78.75 L509.5 80.94 L510 83.23 L510.5 85.59 L511 88.01 L511.5 90.49 L512 93.01 L512.5 95.55 L513 98.11 L513.5 100.66 L514 103.2 L514.5 105.71 L515 108.18 L515.5 110.59 L516 112.94 L516.5 115.2 L517 117.37 L517.5 119.44 L518 121.4 L518.5 123.22 L519 124.92 L519.5 126.46 L520 127.86 L520.5 129.09 L521 130.16 L521.5 131.06 L522 131.78 L522.5 132.31 L523 132.67 L523.5 132.84" fill="none" stroke="#c91f25" stroke-width="1.45"/>
<text x="310" y="177.1" font-size="10.6" text-anchor="middle" fill="#231f20" stroke="#231f20" stroke-width="0.22" font-weight="normal" textLength="6.48" lengthAdjust="spacingAndGlyphs">0</text>
<text x="357.72" y="177.1" font-size="10.6" text-anchor="middle" fill="#231f20" stroke="#231f20" stroke-width="0.22" font-weight="normal" textLength="19.45" lengthAdjust="spacingAndGlyphs">200</text>
<text x="405.44" y="177.1" font-size="10.6" text-anchor="middle" fill="#231f20" stroke="#231f20" stroke-width="0.22" font-weight="normal" textLength="19.45" lengthAdjust="spacingAndGlyphs">400</text>
<text x="453.16" y="177.1" font-size="10.6" text-anchor="middle" fill="#231f20" stroke="#231f20" stroke-width="0.22" font-weight="normal" textLength="19.45" lengthAdjust="spacingAndGlyphs">600</text>
<text x="500.88" y="177.1" font-size="10.6" text-anchor="middle" fill="#231f20" stroke="#231f20" stroke-width="0.22" font-weight="normal" textLength="19.45" lengthAdjust="spacingAndGlyphs">800</text>
<text x="302.6" y="167.8" font-size="10.6" text-anchor="end" fill="#231f20" stroke="#231f20" stroke-width="0.22" font-weight="normal" textLength="6.48" lengthAdjust="spacingAndGlyphs">0</text>
<text x="304.6" y="137.24" font-size="10.6" text-anchor="end" fill="#231f20" stroke="#231f20" stroke-width="0.22" font-weight="normal" textLength="16.21" lengthAdjust="spacingAndGlyphs">0.2</text>
<text x="304.6" y="106.68" font-size="10.6" text-anchor="end" fill="#231f20" stroke="#231f20" stroke-width="0.22" font-weight="normal" textLength="16.21" lengthAdjust="spacingAndGlyphs">0.4</text>
<text x="304.6" y="76.12" font-size="10.6" text-anchor="end" fill="#231f20" stroke="#231f20" stroke-width="0.22" font-weight="normal" textLength="16.21" lengthAdjust="spacingAndGlyphs">0.6</text>
<text x="304.6" y="45.56" font-size="10.6" text-anchor="end" fill="#231f20" stroke="#231f20" stroke-width="0.22" font-weight="normal" textLength="16.21" lengthAdjust="spacingAndGlyphs">0.8</text>
<text x="302.6" y="14.4" font-size="10.6" text-anchor="end" fill="#231f20" stroke="#231f20" stroke-width="0.22" font-weight="normal" textLength="6.48" lengthAdjust="spacingAndGlyphs">1</text>
<text x="318.6" y="28.8" font-size="12.6" fill="#231f20" stroke="#231f20" stroke-width="0.22">b<tspan dx="0.3" dy="-0.3">)</tspan></text>
<text x="390.4" y="193.7" font-size="12.6" text-anchor="start" fill="#231f20" stroke="#231f20" stroke-width="0.22" font-weight="normal" textLength="62.8" lengthAdjust="spacingAndGlyphs">α angle (°)</text>
<text transform="translate(276.7 133.2) rotate(-90)" font-size="13.9" fill="#231f20" stroke="#231f20" stroke-width="0.22" textLength="92.6" lengthAdjust="spacingAndGlyphs">Intensity (norm.)</text>
<g fill="#27195f" stroke="#140950" stroke-width="0.8"><rect x="85.7" y="334.8" width="4.49" height="35"/><rect x="106.86" y="334.8" width="4.49" height="35"/><rect x="117.44" y="299.4" width="4.49" height="70.4"/><rect x="122.73" y="299.4" width="4.49" height="70.4"/><rect x="128.02" y="334.8" width="4.49" height="35"/><rect x="133.31" y="334.8" width="4.49" height="35"/><rect x="138.6" y="334.8" width="4.49" height="35"/><rect x="143.89" y="299.4" width="4.49" height="70.4"/><rect x="149.18" y="334.8" width="4.49" height="35"/><rect x="154.47" y="299.4" width="4.49" height="70.4"/><rect x="165.05" y="299.4" width="4.49" height="70.4"/><rect x="170.34" y="334.8" width="4.49" height="35"/><rect x="175.63" y="334.8" width="4.49" height="35"/><rect x="180.92" y="299.4" width="4.49" height="70.4"/><rect x="186.21" y="228.6" width="4.49" height="141.2"/></g>
<rect x="42.5" y="210.5" width="215" height="159.3" fill="none" stroke="#b3b3b3" stroke-width="1.6"/>
<path d="M85.5 369.8v-2.6M85.5 210.5v2.6M128.5 369.8v-2.6M128.5 210.5v2.6M171.5 369.8v-2.6M171.5 210.5v2.6M214.5 369.8v-2.6M214.5 210.5v2.6" stroke="#a0a0a0" stroke-width="1" fill="none"/>
<path d="M42.5 351.5h2.6M257.5 351.5h-2.6M42.5 333.5h2.6M257.5 333.5h-2.6M42.5 316.5h2.6M257.5 316.5h-2.6M42.5 298.5h2.6M257.5 298.5h-2.6M42.5 281.5h2.6M257.5 281.5h-2.6M42.5 263.5h2.6M257.5 263.5h-2.6M42.5 245.5h2.6M257.5 245.5h-2.6M42.5 228.5h2.6M257.5 228.5h-2.6" stroke="#a0a0a0" stroke-width="1" fill="none"/>
<line x1="125.8" y1="226" x2="125.8" y2="373.6" stroke="#529e2c" stroke-width="1.9" stroke-dasharray="4.3 4.6"/>
<line x1="191.8" y1="226" x2="191.8" y2="373.6" stroke="#529e2c" stroke-width="1.9" stroke-dasharray="4.3 4.6"/>
<text x="42.4" y="382.4" font-size="10.6" text-anchor="middle" fill="#231f20" stroke="#231f20" stroke-width="0.22" font-weight="normal">0</text>
<text x="84.12" y="382.4" font-size="10.6" text-anchor="middle" fill="#231f20" stroke="#231f20" stroke-width="0.22" font-weight="normal">0.2</text>
<text x="126.94" y="382.4" font-size="10.6" text-anchor="middle" fill="#231f20" stroke="#231f20" stroke-width="0.22" font-weight="normal">0.4</text>
<text x="169.76" y="382.4" font-size="10.6" text-anchor="middle" fill="#231f20" stroke="#231f20" stroke-width="0.22" font-weight="normal">0.6</text>
<text x="213.38" y="382.4" font-size="10.6" text-anchor="middle" fill="#231f20" stroke="#231f20" stroke-width="0.22" font-weight="normal">0.8</text>
<text x="257" y="382.4" font-size="10.6" text-anchor="middle" fill="#231f20" stroke="#231f20" stroke-width="0.22" font-weight="normal">1</text>
<text x="39" y="372.3" font-size="10.6" text-anchor="end" fill="#231f20" stroke="#231f20" stroke-width="0.22" font-weight="normal">0</text>
<text x="39.6" y="336.7" font-size="10.6" text-anchor="end" fill="#231f20" stroke="#231f20" stroke-width="0.22" font-weight="normal">1</text>
<text x="39.6" y="301.1" font-size="10.6" text-anchor="end" fill="#231f20" stroke="#231f20" stroke-width="0.22" font-weight="normal">2</text>
<text x="39.6" y="265.5" font-size="10.6" text-anchor="end" fill="#231f20" stroke="#231f20" stroke-width="0.22" font-weight="normal">3</text>
<text x="39.6" y="229.9" font-size="10.6" text-anchor="end" fill="#231f20" stroke="#231f20" stroke-width="0.22" font-weight="normal">4</text>
<text x="57" y="228.4" font-size="12.6" fill="#231f20" stroke="#231f20" stroke-width="0.22">c<tspan dx="0.2" dy="-1.0">)</tspan></text>
<text x="94.6" y="400" font-size="12.6" text-anchor="start" fill="#231f20" stroke="#231f20" stroke-width="0.22" font-weight="normal" textLength="120.2" lengthAdjust="spacingAndGlyphs">Deg. of linear polar. δ</text>
<text transform="translate(9.9 328.4) rotate(-90)" font-size="12.6" fill="#231f20" stroke="#231f20" stroke-width="0.22" textLength="72" lengthAdjust="spacingAndGlyphs">Occurrences</text>
<g fill="none" stroke="#388914" stroke-width="1.6"><circle cx="100.35" cy="226.75" r="3.05"/><path d="M99.3 224.0 C98.1 223.1 97.6 221.3 98.8 220.5 C99.8 219.9 101.8 220.2 103.5 220.7"/></g>
<g fill="none" stroke="#388914" stroke-width="1.6" transform="translate(100.5 5.3)"><circle cx="100.35" cy="226.75" r="3.05"/><path d="M99.3 224.0 C98.1 223.1 97.6 221.3 98.8 220.5 C99.8 219.9 101.8 220.2 103.5 220.7"/></g>
<text x="103.8" y="222.9" font-size="10.2" text-anchor="start" fill="#388914" stroke="#388914" stroke-width="0.3" font-weight="bold">2D</text>
<text x="103.4" y="236.4" font-size="10.4" text-anchor="start" fill="#388914" stroke="#388914" stroke-width="0.3" font-weight="bold">max</text>
<text x="205" y="224.9" font-size="10.2" text-anchor="start" fill="#388914" stroke="#388914" stroke-width="0.3" font-weight="bold">1D</text>
<text x="205.2" y="238.5" font-size="10.4" text-anchor="start" fill="#388914" stroke="#388914" stroke-width="0.3" font-weight="bold" textLength="19.9" lengthAdjust="spacingAndGlyphs">max</text>
<g fill="#27195f" stroke="#140950" stroke-width="0.8"><rect x="376.4" y="343.2" width="12.85" height="26.3"/><rect x="390.05" y="343.2" width="12.85" height="26.3"/><rect x="403.7" y="263.7" width="12.85" height="105.8"/><rect x="417.35" y="290.2" width="12.85" height="79.3"/><rect x="431" y="237.2" width="12.85" height="132.3"/><rect x="444.65" y="343.2" width="12.85" height="26.3"/><rect x="458.3" y="316.7" width="12.85" height="52.8"/><rect x="471.95" y="316.7" width="12.85" height="52.8"/><rect x="485.6" y="316.7" width="12.85" height="52.8"/><rect x="499.25" y="290.2" width="12.85" height="79.3"/></g>
<rect x="309.5" y="210" width="215" height="159.5" fill="none" stroke="#b3b3b3" stroke-width="1.6"/>
<path d="M357.5 369.5v-2.6M357.5 210v2.6M404.5 369.5v-2.6M404.5 210v2.6M452.5 369.5v-2.6M452.5 210v2.6M500.5 369.5v-2.6M500.5 210v2.6" stroke="#a0a0a0" stroke-width="1" fill="none"/>
<path d="M309.5 342.5h2.6M524.5 342.5h-2.6M309.5 315.5h2.6M524.5 315.5h-2.6M309.5 289.5h2.6M524.5 289.5h-2.6M309.5 262.5h2.6M524.5 262.5h-2.6M309.5 236.5h2.6M524.5 236.5h-2.6" stroke="#a0a0a0" stroke-width="1" fill="none"/>
<text x="310" y="382.4" font-size="10.6" text-anchor="middle" fill="#231f20" stroke="#231f20" stroke-width="0.22" font-weight="normal">0</text>
<text x="358.03" y="382.4" font-size="10.6" text-anchor="middle" fill="#231f20" stroke="#231f20" stroke-width="0.22" font-weight="normal" textLength="12.6" lengthAdjust="spacingAndGlyphs">20</text>
<text x="405.81" y="382.4" font-size="10.6" text-anchor="middle" fill="#231f20" stroke="#231f20" stroke-width="0.22" font-weight="normal" textLength="12.6" lengthAdjust="spacingAndGlyphs">40</text>
<text x="453.59" y="382.4" font-size="10.6" text-anchor="middle" fill="#231f20" stroke="#231f20" stroke-width="0.22" font-weight="normal" textLength="12.6" lengthAdjust="spacingAndGlyphs">60</text>
<text x="501.37" y="382.4" font-size="10.6" text-anchor="middle" fill="#231f20" stroke="#231f20" stroke-width="0.22" font-weight="normal" textLength="12.6" lengthAdjust="spacingAndGlyphs">80</text>
<text x="304.6" y="372.3" font-size="10.6" text-anchor="end" fill="#231f20" stroke="#231f20" stroke-width="0.22" font-weight="normal">0</text>
<text x="304.6" y="345.78" font-size="10.6" text-anchor="end" fill="#231f20" stroke="#231f20" stroke-width="0.22" font-weight="normal">1</text>
<text x="304.6" y="319.26" font-size="10.6" text-anchor="end" fill="#231f20" stroke="#231f20" stroke-width="0.22" font-weight="normal">2</text>
<text x="304.6" y="292.74" font-size="10.6" text-anchor="end" fill="#231f20" stroke="#231f20" stroke-width="0.22" font-weight="normal">3</text>
<text x="304.6" y="266.22" font-size="10.6" text-anchor="end" fill="#231f20" stroke="#231f20" stroke-width="0.22" font-weight="normal">4</text>
<text x="304.6" y="239.7" font-size="10.6" text-anchor="end" fill="#231f20" stroke="#231f20" stroke-width="0.22" font-weight="normal">5</text>
<text x="304.6" y="213.18" font-size="10.6" text-anchor="end" fill="#231f20" stroke="#231f20" stroke-width="0.22" font-weight="normal">6</text>
<text x="316.7" y="231" font-size="12.6" fill="#231f20" stroke="#231f20" stroke-width="0.22">d<tspan dx="0.5" dy="-0.8">)</tspan></text>
<text x="358" y="399.5" font-size="12.6" text-anchor="start" fill="#231f20" stroke="#231f20" stroke-width="0.22" font-weight="normal" textLength="135.6" lengthAdjust="spacingAndGlyphs">Out-of-plane angle Θ (°)</text>
<text transform="translate(280.2 320.8) rotate(-90)" font-size="12.6" fill="#231f20" stroke="#231f20" stroke-width="0.22" textLength="72" lengthAdjust="spacingAndGlyphs">Occurrences</text>
</svg>
</body></html>
